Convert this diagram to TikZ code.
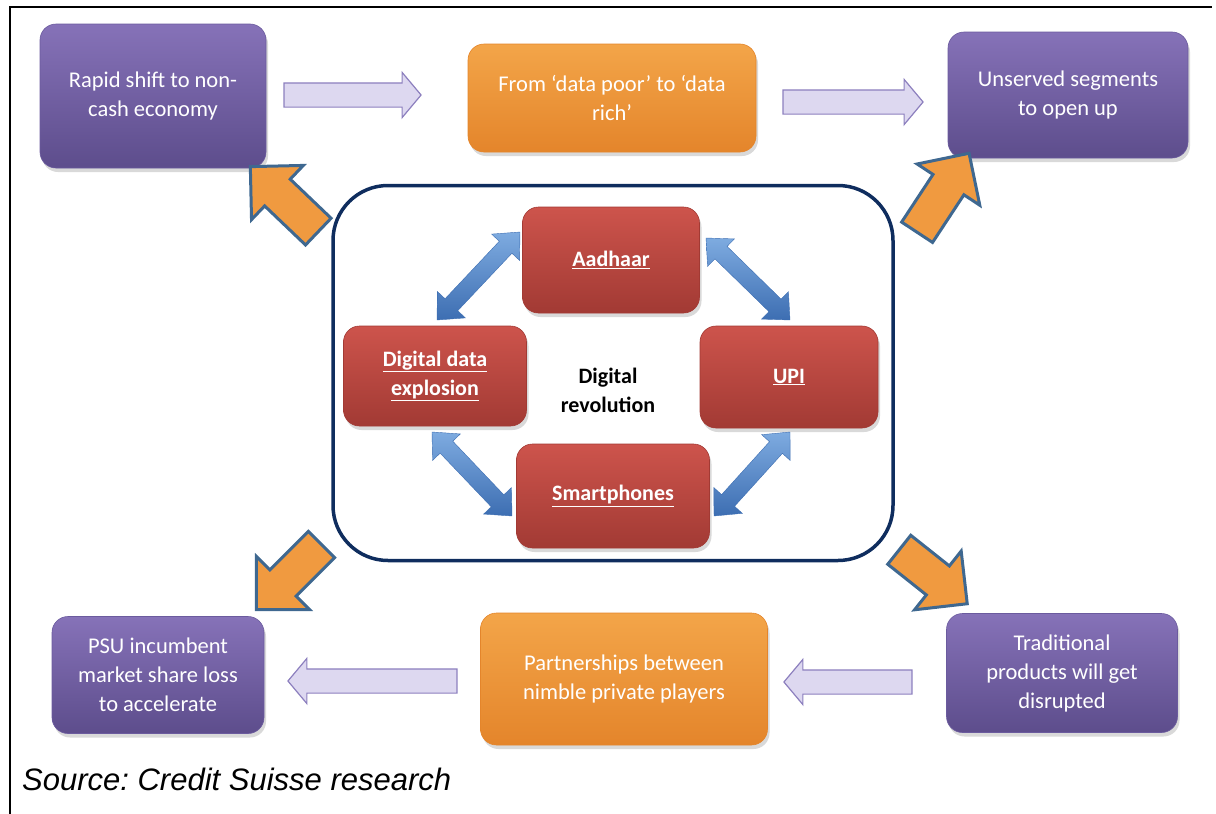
\documentclass[tikz,border=0pt]{standalone}
\usepackage{fontspec}
\setmainfont{Carlito}
\newfontfamily\srcfont{Liberation Sans}
\usetikzlibrary{shapes.arrows,shadows,calc}

\definecolor{purplehi}{HTML}{8672B8}
\definecolor{purplelo}{HTML}{5D4D8C}
\definecolor{purpleline}{HTML}{6B5B9E}
\definecolor{orangehi}{HTML}{F3A549}
\definecolor{orangelo}{HTML}{E4852B}
\definecolor{redhi}{HTML}{CD544C}
\definecolor{redlo}{HTML}{A23A34}
\definecolor{lilacfill}{HTML}{DDD8F0}
\definecolor{lilacline}{HTML}{8C7FBE}
\definecolor{arroworange}{HTML}{F09A40}
\definecolor{arrowedge}{HTML}{3F6890}
\definecolor{bluehi}{HTML}{7EABE0}
\definecolor{bluelo}{HTML}{3D6EB2}
\definecolor{navyline}{HTML}{0F2D5E}

\begin{document}
\begin{tikzpicture}
  [x=1pt, y=-1pt,
   box/.style={rounded corners=16pt, align=center, text=white, inner sep=0pt,
     font=\fontsize{22.5}{29}\selectfont,
     drop shadow={opacity=0.3, shadow xshift=2pt, shadow yshift=-4pt}},
   purplebox/.style={box, top color=purplehi, bottom color=purplelo, draw=purpleline, line width=0.6pt},
   orangebox/.style={box, top color=orangehi, bottom color=orangelo, draw=orangelo, line width=0.6pt},
   redbox/.style={box, top color=redhi, bottom color=redlo, draw=redlo, line width=0.6pt,
     font=\bfseries\fontsize{22}{29}\selectfont},
   lilacarrow/.style={single arrow, fill=lilacfill, draw=lilacline, line width=1.2pt,
     inner xsep=0pt, inner ysep=11.5pt, single arrow head extend=10.5pt, single arrow tip angle=100},
   orangearrow/.style={single arrow, fill=arroworange, draw=arrowedge, line width=3pt,
     inner xsep=0pt, inner ysep=17pt, single arrow head extend=19pt, single arrow tip angle=90},
   bluearrow/.style={double arrow, top color=bluehi, bottom color=bluelo, draw=bluelo, line width=0.4pt,
     inner xsep=0pt, inner ysep=8.5pt, double arrow head extend=10.5pt, double arrow tip angle=85},
   blockarrow/.style={to path={
     let \p1=($(\tikztotarget)-(\tikztostart)$), \n1={veclen(\x1,\y1)}, \n2={atan2(\y1,\x1)} in
     node[#1, minimum height=\n1, rotate=\n2] at ($(\tikztostart)!0.5!(\tikztotarget)$) {}}}]

  \useasboundingbox (0,0) rectangle (1216,814);
  \draw[line width=2pt] (10,814) -- (10,7) -- (1212,7);

  \node[purplebox, minimum width=226pt, minimum height=144pt] (rapid) at (153,96) {Rapid shift to non-\\cash economy};
  \node[orangebox, minimum width=288pt, minimum height=108pt] (datarich) at (612,98) {From ‘data poor’ to ‘data\\rich’};
  \node[purplebox, minimum width=240pt, minimum height=126pt] (unserved) at (1068,95) {Unserved segments\\to open up};
  \node[purplebox, minimum width=212pt, minimum height=117pt] (psu) at (158,675) {PSU incumbent\\market share loss\\to accelerate};
  \node[orangebox, minimum width=287pt, minimum height=132pt] (partner) at (624,679) {Partnerships between\\nimble private players};
  \node[purplebox, minimum width=231pt, minimum height=119pt] (trad) at (1062,673) {Traditional\\products will get\\disrupted};

  \node[draw=navyline, line width=3.5pt, rounded corners=55pt, minimum width=560pt, minimum height=375pt] (revo) at (613,373) {};
  \node[redbox, minimum width=177pt, minimum height=106pt] (aadhaar) at (611,260) {\underline{Aadhaar}};
  \node[redbox, minimum width=183pt, minimum height=100pt] (digidata) at (435,376) {\underline{Digital data}\\\underline{explosion}};
  \node[redbox, minimum width=178pt, minimum height=102pt] (upi) at (789,377) {\underline{UPI}};
  \node[redbox, minimum width=193pt, minimum height=104pt] (smart) at (613,496) {\underline{Smartphones}};
  \node[align=center, font=\bfseries\fontsize{22}{29}\selectfont] (center) at (608,390) {Digital\\revolution};

  \coordinate (ra1) at (279,95);  \coordinate (ra2) at (416,95);
  \coordinate (rb1) at (778,102); \coordinate (rb2) at (918,102);
  \coordinate (la1) at (462,681); \coordinate (la2) at (293,681);
  \coordinate (lb1) at (917,682); \coordinate (lb2) at (789,682);
  \path[blockarrow=lilacarrow] (ra1) to (ra2);
  \path[blockarrow=lilacarrow] (rb1) to (rb2);
  \path[blockarrow=lilacarrow] (la1) to (la2);
  \path[blockarrow=lilacarrow] (lb1) to (lb2);

  \coordinate (oa1) at (325,238); \coordinate (oa2) at (257,173);
  \coordinate (ob1) at (912,240); \coordinate (ob2) at (964,161);
  \coordinate (oc1) at (328,538); \coordinate (oc2) at (263,603);
  \coordinate (od1) at (892,544); \coordinate (od2) at (960,598);
  \path[blockarrow=orangearrow] (oa1) to (oa2);
  \path[blockarrow=orangearrow] (ob1) to (ob2);
  \path[blockarrow=orangearrow] (oc1) to (oc2);
  \path[blockarrow=orangearrow] (od1) to (od2);

  \coordinate (ba1) at (520,232); \coordinate (ba2) at (437,320);
  \coordinate (bb1) at (706,238); \coordinate (bb2) at (790,320);
  \coordinate (bc1) at (432,432); \coordinate (bc2) at (512,516);
  \coordinate (bd1) at (790,432); \coordinate (bd2) at (714,516);
  \path[blockarrow=bluearrow] (ba1) to (ba2);
  \path[blockarrow=bluearrow] (bb1) to (bb2);
  \path[blockarrow=bluearrow] (bc1) to (bc2);
  \path[blockarrow=bluearrow] (bd1) to (bd2);

  \node[anchor=west, inner sep=0pt, font=\srcfont\itshape\frenchspacing\fontsize{31}{36}\selectfont] (source) at (22,779) {Source: Credit Suisse research};
\end{tikzpicture}
\end{document}
